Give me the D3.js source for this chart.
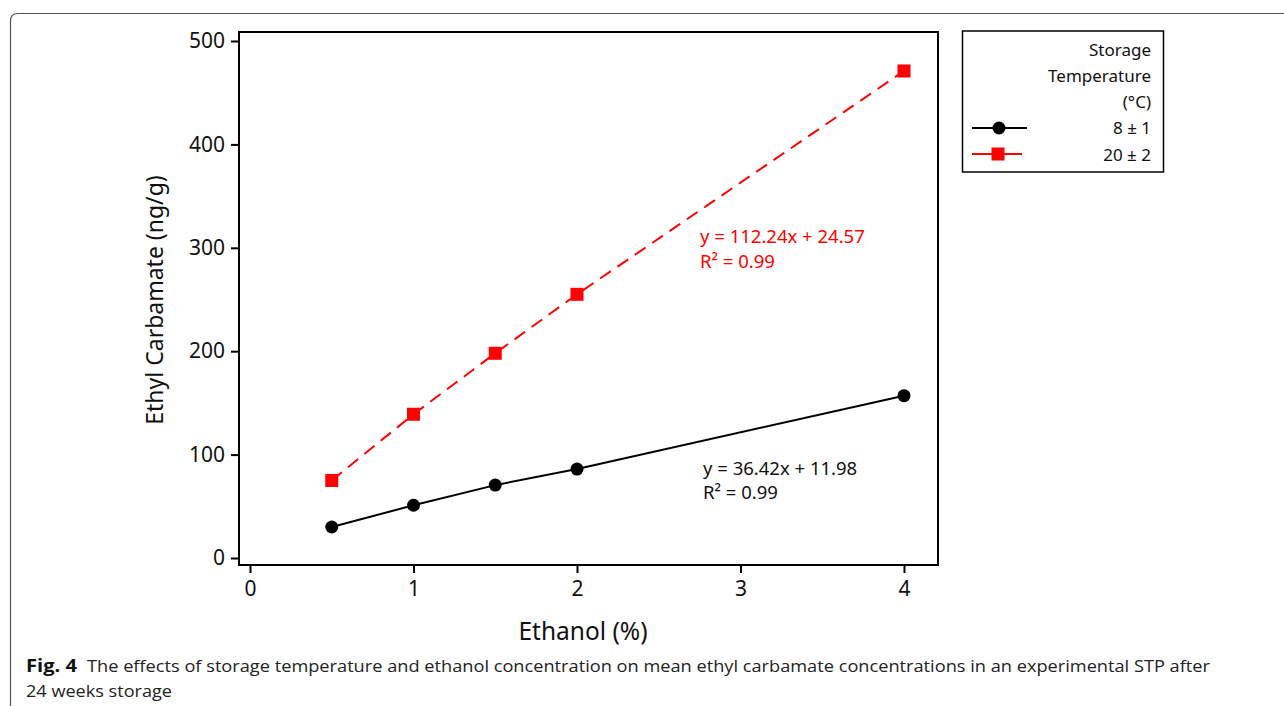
<!DOCTYPE html>
<html><head><meta charset="utf-8">
<script src="https://cdn.jsdelivr.net/npm/d3@7"></script>
<style>
html,body{margin:0;padding:0;background:#fff;}
svg{display:block;}
text{font-family:"Noto Sans","DejaVu Sans",sans-serif;}
</style></head>
<body>
<svg id="c" width="1284" height="706"></svg>
<script>
const ethanol = [0.5, 1, 1.5, 2, 4];
const ec8 = [30, 51, 70.5, 86, 157];
const ec20 = [75, 139, 198, 255, 471];
const xTicks = [0, 1, 2, 3, 4];
const yTicks = [0, 100, 200, 300, 400, 500];
const legendTitle = ["Storage", "Temperature", "(°C)"];
const seriesNames = ["8 ± 1", "20 ± 2"];
const eqBlack = ["y = 36.42x + 11.98", "R² = 0.99"];
const eqRed = ["y = 112.24x + 24.57", "R² = 0.99"];
const caption1Bold = "Fig. 4";
const caption1 = "The effects of storage temperature and ethanol concentration on mean ethyl carbamate concentrations in an experimental STP after";
const caption2 = "24 weeks storage";

const svg = d3.select("#c");
// outer figure frame
svg.append("path")
  .attr("d", "M10.5,706 L10.5,21 Q10.5,13.5 18,13.5 L1290,13.5")
  .attr("fill","none").attr("stroke","#555").attr("stroke-width",1.2);

const x = d3.scaleLinear().domain([0,4]).range([250,904]);
const y = d3.scaleLinear().domain([0,500]).range([558,41]);

// plot frame
svg.append("rect").attr("x",239).attr("y",32).attr("width",699).attr("height",533)
  .attr("fill","none").attr("stroke","#000").attr("stroke-width",2);

// y axis
const yAxis = d3.axisLeft(y).tickValues(yTicks).tickSize(7).tickPadding(6);
const gy = svg.append("g").attr("transform","translate(238,0)").call(yAxis);
gy.select(".domain").remove();
gy.selectAll("line").attr("stroke","#000").attr("stroke-width",2);
gy.selectAll("text").attr("font-size",21).attr("fill","#111")
  .style("font-family","'Noto Sans',sans-serif");

// x axis
const xAxis = d3.axisBottom(x).tickValues(xTicks).tickSize(8).tickPadding(8).tickFormat(d3.format("d"));
const gx = svg.append("g").attr("transform","translate(0,565)").call(xAxis);
gx.select(".domain").remove();
gx.selectAll("line").attr("stroke","#000").attr("stroke-width",2);
gx.selectAll("text").attr("font-size",21).attr("fill","#111")
  .style("font-family","'Noto Sans',sans-serif");

// axis titles
svg.append("text").attr("transform","translate(163,300) rotate(-90)")
  .attr("text-anchor","middle").attr("font-size",23).attr("fill","#111")
  .text("Ethyl Carbamate (ng/g)");
svg.append("text").attr("x",583).attr("y",640).attr("text-anchor","middle")
  .attr("font-size",24.5).attr("fill","#111").text("Ethanol (%)");

const line = d3.line().x(d=>x(d[0])).y(d=>y(d[1]));
const d8 = ethanol.map((e,i)=>[e,ec8[i]]);
const d20 = ethanol.map((e,i)=>[e,ec20[i]]);

svg.append("path").datum(d20).attr("d",line).attr("fill","none")
  .attr("stroke","#ff0000").attr("stroke-width",2).attr("stroke-dasharray","13,8");
svg.append("path").datum(d8).attr("d",line).attr("fill","none")
  .attr("stroke","#000").attr("stroke-width",2);

svg.selectAll(".sq").data(d20).enter().append("rect")
  .attr("x",d=>x(d[0])-6.5).attr("y",d=>y(d[1])-6.5).attr("width",13).attr("height",13)
  .attr("fill","#ff0000");
svg.selectAll(".ci").data(d8).enter().append("circle")
  .attr("cx",d=>x(d[0])).attr("cy",d=>y(d[1])).attr("r",6.5).attr("fill","#000");

// equations
eqRed.forEach((t,i)=>svg.append("text").attr("x",700).attr("y",243+i*25)
  .attr("font-size",18.5).attr("fill","#ff0000").text(t));
eqBlack.forEach((t,i)=>svg.append("text").attr("x",703).attr("y",475+i*24)
  .attr("font-size",18.5).attr("fill","#111").text(t));

// legend
svg.append("rect").attr("x",962.5).attr("y",31).attr("width",201).attr("height",141)
  .attr("fill","none").attr("stroke","#000").attr("stroke-width",1.5);
legendTitle.forEach((t,i)=>svg.append("text").attr("x",1151).attr("y",56+i*26)
  .attr("text-anchor","end").attr("font-size",17).attr("fill","#111").text(t));
seriesNames.forEach((t,i)=>svg.append("text").attr("x",1151).attr("y",134+i*27)
  .attr("text-anchor","end").attr("font-size",17).attr("fill","#111").text(t));
svg.append("line").attr("x1",972).attr("x2",1027).attr("y1",128).attr("y2",128)
  .attr("stroke","#000").attr("stroke-width",2);
svg.append("circle").attr("cx",999).attr("cy",128).attr("r",6.5).attr("fill","#000");
svg.append("line").attr("x1",972).attr("x2",1022).attr("y1",154).attr("y2",154)
  .attr("stroke","#ff0000").attr("stroke-width",2);
svg.append("rect").attr("x",991.5).attr("y",147.5).attr("width",13).attr("height",13).attr("fill","#ff0000");

// caption
const capFont = "'Open Sans','Noto Sans',sans-serif";
svg.append("text").attr("x",26).attr("y",672).attr("font-size",17).attr("font-weight","bold")
  .attr("fill","#111").style("font-family",capFont)
  .attr("textLength",51).attr("lengthAdjust","spacingAndGlyphs").text(caption1Bold);
svg.append("text").attr("x",87).attr("y",672).attr("font-size",17)
  .attr("fill","#222").style("font-family",capFont)
  .attr("textLength",1123).attr("lengthAdjust","spacingAndGlyphs").text(caption1);
svg.append("text").attr("x",26).attr("y",697).attr("font-size",17).attr("fill","#222")
  .style("font-family",capFont)
  .attr("textLength",146).attr("lengthAdjust","spacingAndGlyphs").text(caption2);
</script>
</body></html>
